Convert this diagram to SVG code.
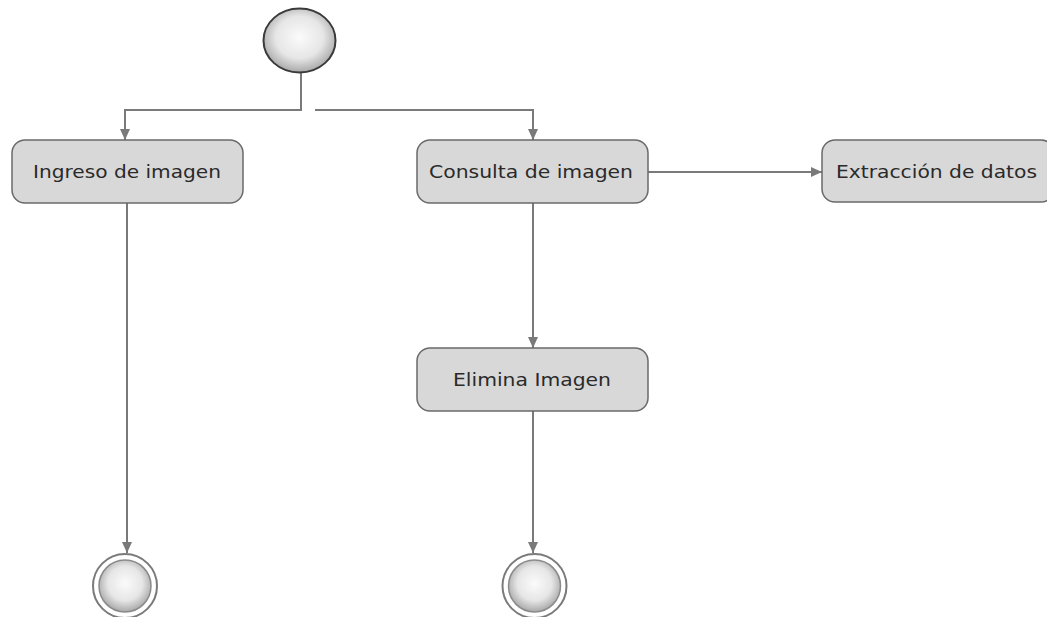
<svg xmlns="http://www.w3.org/2000/svg" width="1047" height="617" viewBox="0 0 1047 617">
<style>
.node rect{fill:#d8d8d8;stroke:#6a6a6a;stroke-width:1.5}
.node text{font-family:"DejaVu Sans","Open Sans",sans-serif;font-size:18px;fill:#2a2a2a;text-anchor:middle}
.conn{fill:none;stroke:#7a7a7a;stroke-width:2}
</style>
<defs>
<radialGradient id="ball" cx="0.5" cy="0.45" r="0.55">
<stop offset="0" stop-color="#fbfbfb"/>
<stop offset="0.6" stop-color="#e6e6e6"/>
<stop offset="1" stop-color="#a8a8a8"/>
</radialGradient>
<marker id="arr" viewBox="0 0 12 10" refX="11" refY="5" markerWidth="12" markerHeight="10" markerUnits="userSpaceOnUse" orient="auto">
<path d="M0,0 L11,5 L0,10 Z" fill="#7a7a7a"/>
</marker>
</defs>
<rect width="1047" height="617" fill="#fff"/>
<g id="connectors">
<path class="conn" d="M301,73 V110 H125 V140" marker-end="url(#arr)"/>
<path class="conn" d="M315,110 H533 V140" marker-end="url(#arr)"/>
<path class="conn" d="M648,172 H822" marker-end="url(#arr)"/>
<path class="conn" d="M533,203 V348" marker-end="url(#arr)"/>
<path class="conn" d="M127,203 V553" marker-end="url(#arr)"/>
<path class="conn" d="M533,411 V553" marker-end="url(#arr)"/>
</g>
<g id="start">
<ellipse cx="299.5" cy="40.5" rx="36" ry="32" fill="url(#ball)" stroke="#3a3a3a" stroke-width="2"/>
</g>
<g id="ingreso" class="node">
<rect x="12" y="140" width="231" height="63" rx="13"/>
<text x="127" y="178" textLength="188" lengthAdjust="spacingAndGlyphs">Ingreso de imagen</text>
</g>
<g id="consulta" class="node">
<rect x="417" y="140" width="231" height="63" rx="13"/>
<text x="531" y="178" textLength="204" lengthAdjust="spacingAndGlyphs">Consulta de imagen</text>
</g>
<g id="extraccion" class="node">
<rect x="822" y="140" width="232" height="62" rx="13"/>
<text x="936.5" y="178" textLength="201" lengthAdjust="spacingAndGlyphs">Extracción de datos</text>
</g>
<g id="elimina" class="node">
<rect x="417" y="348" width="231" height="63" rx="13"/>
<text x="532" y="386" textLength="158" lengthAdjust="spacingAndGlyphs">Elimina Imagen</text>
</g>
<g id="end1">
<circle cx="125" cy="586" r="32" fill="#fff" stroke="#7a7a7a" stroke-width="2"/>
<circle cx="125" cy="586" r="26" fill="url(#ball)" stroke="#8a8a8a" stroke-width="1.5"/>
</g>
<g id="end2">
<circle cx="534.5" cy="586" r="32" fill="#fff" stroke="#7a7a7a" stroke-width="2"/>
<circle cx="534.5" cy="586" r="26" fill="url(#ball)" stroke="#8a8a8a" stroke-width="1.5"/>
</g>
</svg>
